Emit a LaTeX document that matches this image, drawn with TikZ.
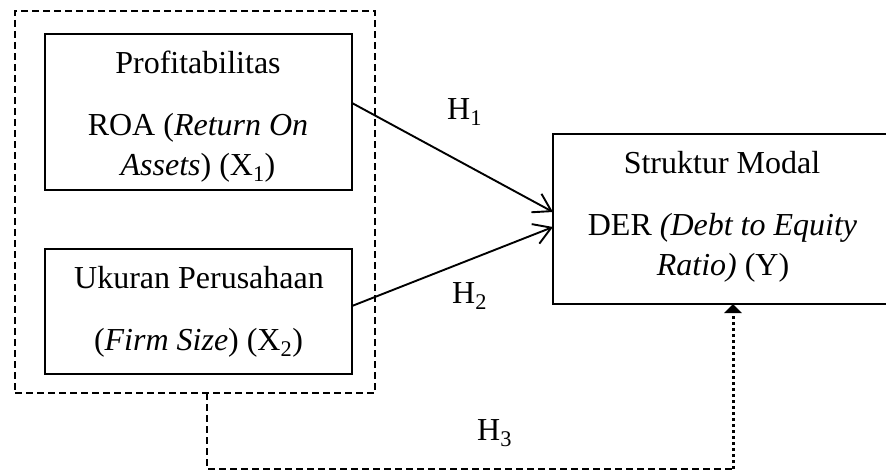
\documentclass[tikz,border=0pt]{standalone}
\usepackage{fontspec}
\setmainfont{Liberation Serif}
\usetikzlibrary{arrows.meta}
\tikzset{
  box/.style={draw,line width=2pt,inner sep=0pt,outer sep=0pt},
  grpbox/.style={draw,line width=1.8pt,dash pattern=on 7pt off 4pt,inner sep=0pt,outer sep=0pt},
  txt/.style={anchor=base,inner sep=0pt,font=\fontsize{32}{38}\selectfont},
  hlab/.style={anchor=base west,inner sep=0pt,font=\fontsize{32}{38}\selectfont},
  conn/.style={line width=1.9pt,-{Straight Barb[length=17pt,width=21pt,line width=1.9pt]}},
  dashline/.style={line width=1.8pt,dash pattern=on 7pt off 4pt},
  dotline/.style={line width=3pt,dash pattern=on 3pt off 3pt,-{Triangle[length=9pt,width=17pt]}}
}
\begin{document}
\begin{tikzpicture}[x=1pt,y=-1pt]
\useasboundingbox (0,0) rectangle (886,471);
\clip (0,0) rectangle (886,471);
% group
\node[grpbox,minimum width=360pt,minimum height=382pt] (grp) at (195,202) {};
% boxes
\node[box,minimum width=307pt,minimum height=156pt] (b1) at (198.5,112) {};
\node[box,minimum width=307pt,minimum height=125pt] (b2) at (198.5,311.5) {};
\node[box,minimum width=340pt,minimum height=170pt] (yb) at (723,219) {};
% texts
\node[txt] (t11) at (198,73) {Profitabilitas};
\node[txt] (t12) at (198,135) {ROA (\textit{Return On}};
\node[txt] (t13) at (198,175) {\textit{Assets}) (X\textsubscript{1})};
\node[txt] (t21) at (199,288) {Ukuran Perusahaan};
\node[txt] (t22) at (198.5,350) {(\textit{Firm Size}) (X\textsubscript{2})};
\node[txt] (ty1) at (722,173) {Struktur Modal};
\node[txt] (ty2) at (722.5,235) {DER \textit{(Debt to Equity}};
\node[txt] (ty3) at (723,275) {\textit{Ratio)} (Y)};
% hypothesis labels
\node[hlab] (h1) at (447,119) {H\textsubscript{1}};
\node[hlab] (h2) at (452,303) {H\textsubscript{2}};
\node[hlab] (h3) at (477,440) {H\textsubscript{3}};
% connectors
\draw[conn] ([yshift=9pt]b1.east) -- ([yshift=7pt]yb.west);
\draw[conn] ([yshift=5.5pt]b2.east) -- ([yshift=-8pt]yb.west);
\coordinate (c1) at (207,469);
\coordinate (c2) at (733,469);
\draw[dashline] ([xshift=12pt]grp.south) -- (c1) -- (c2);
\draw[dotline] (c2) -- (c2 |- yb.south);
\end{tikzpicture}
\end{document}
